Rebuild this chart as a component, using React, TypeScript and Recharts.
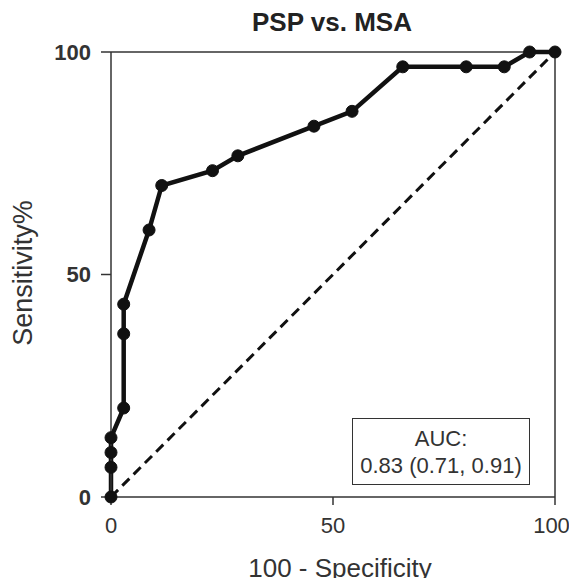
import { LineChart, Line, XAxis, YAxis, ReferenceLine } from 'recharts';

// ROC curve, PSP vs. MSA
const falsePositive = [0, 0, 0, 0, 2.86, 2.86, 2.86, 8.57, 11.43, 22.86, 28.57, 45.71, 54.29, 65.71, 80, 88.57, 94.29, 100];
const sensitivity = [0, 6.67, 10, 13.33, 20, 36.67, 43.33, 60, 70, 73.33, 76.67, 83.33, 86.67, 96.67, 96.67, 96.67, 100, 100];
const axisTicks = [0, 50, 100];
const chanceLine = [
  { x: 0, y: 0 },
  { x: 100, y: 100 },
];

const title = 'PSP vs. MSA';
const xLabel = '100 - Specificity';
const yLabel = 'Sensitivity%';
const aucLines = ['AUC:', '0.83 (0.71, 0.91)'];

const rocData = falsePositive.map((x, i) => ({ x, y: sensitivity[i] }));

const FONT = '"Liberation Sans", Arial, sans-serif';
const INK = '#333';

export default function App() {
  return (
    <div style={{ position: 'relative', width: 560, height: 570, fontFamily: FONT, color: INK }}>
      {/* let the "100" tick label spill past the svg edge */}
      <style>{`.recharts-surface { overflow: visible; }`}</style>
      <div
        style={{
          position: 'absolute',
          left: 324,
          top: 1,
          transform: 'translateX(-50%)',
          fontSize: 26,
          fontWeight: 'bold',
          lineHeight: 1,
          whiteSpace: 'nowrap',
          color: '#222',
        }}
      >
        {title}
      </div>

      <LineChart width={560} height={570} data={rocData} margin={{ top: 44, right: 13, left: 43, bottom: 41 }}>
        <XAxis
          type="number"
          dataKey="x"
          domain={[0, 100]}
          ticks={axisTicks}
          height={40}
          tickSize={8}
          tickMargin={12}
          stroke={INK}
          strokeWidth={1.5}
          tick={{ fill: INK, fontSize: 22, fontFamily: FONT }}
        />
        <YAxis
          type="number"
          domain={[0, 100]}
          ticks={axisTicks}
          width={60}
          tickSize={10}
          tickMargin={10}
          stroke={INK}
          strokeWidth={1.5}
          tick={{ fill: INK, fontSize: 22, fontWeight: 'bold', fontFamily: FONT }}
        />
        {/* frame: top and right edges */}
        <ReferenceLine y={100} stroke={INK} strokeWidth={1.5} />
        <ReferenceLine x={100} stroke={INK} strokeWidth={1.5} />
        <ReferenceLine segment={chanceLine} stroke="#111" strokeWidth={3} strokeDasharray="10 6" />
        <Line
          type="linear"
          dataKey="y"
          stroke="#111"
          strokeWidth={4.5}
          dot={{ r: 6, fill: '#111', stroke: '#111', strokeWidth: 1 }}
          isAnimationActive={false}
        />
      </LineChart>

      <div
        style={{
          position: 'absolute',
          left: 332,
          top: 547,
          transform: 'translateX(-50%)',
          fontSize: 26,
          lineHeight: 1,
          whiteSpace: 'nowrap',
        }}
      >
        {xLabel}
      </div>
      <div
        style={{
          position: 'absolute',
          left: 15,
          top: 265,
          transform: 'translate(-50%, -50%) rotate(-90deg)',
          fontSize: 27,
          lineHeight: 1,
          whiteSpace: 'nowrap',
        }}
      >
        {yLabel}
      </div>

      <div
        style={{
          position: 'absolute',
          left: 344,
          top: 410,
          width: 178,
          height: 67,
          boxSizing: 'border-box',
          border: `1.5px solid ${INK}`,
          background: '#fff',
          paddingTop: 6,
          textAlign: 'center',
          fontSize: 22,
          lineHeight: '27px',
        }}
      >
        {aucLines.map((t) => (
          <div key={t}>{t}</div>
        ))}
      </div>
    </div>
  );
}
